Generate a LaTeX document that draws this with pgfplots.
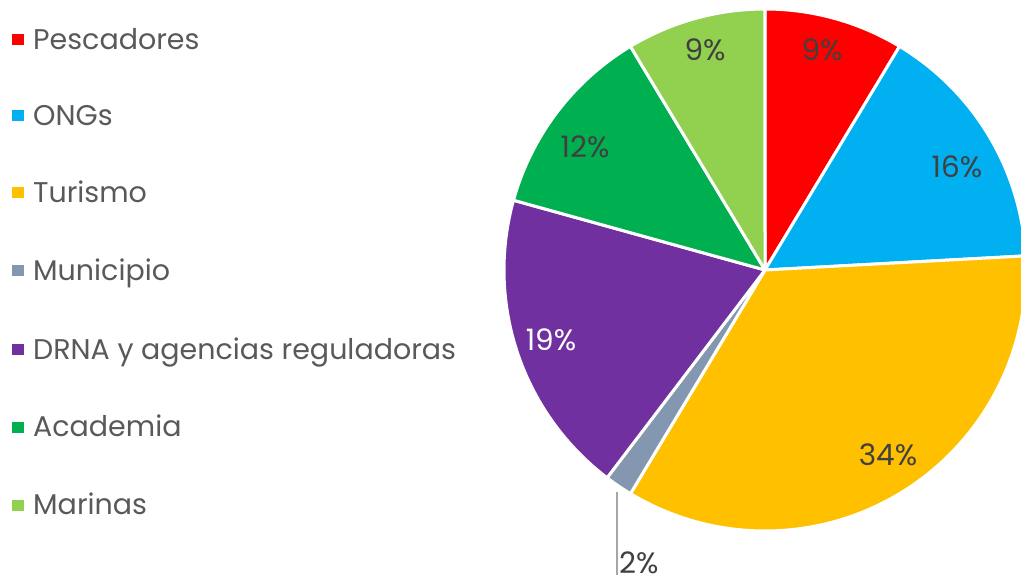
\documentclass[border=0pt]{standalone}
\usepackage{pgfplots}
\pgfplotsset{compat=1.18}
\usepackage{fontspec}
\setmainfont{Poppins}
\definecolor{cPes}{HTML}{FF0000}
\definecolor{cONG}{HTML}{00B0F0}
\definecolor{cTur}{HTML}{FFC000}
\definecolor{cMun}{HTML}{8497B0}
\definecolor{cDRN}{HTML}{7030A0}
\definecolor{cAca}{HTML}{00B050}
\definecolor{cMar}{HTML}{92D050}
\definecolor{legtxt}{HTML}{595959}
\definecolor{pcttxt}{HTML}{404040}
% counts per group (total 58); slices start at the top and run clockwise
% arguments: cumulative start count, cumulative end count, colour
\newcommand{\slice}[3]{%
  \addplot[fill=#3, draw=white, line width=3pt, line join=round,
    domain={#1*360/58}:{#2*360/58}, samples=90, variable=\t]
    ({765+261*sin(\t)}, {-270+261*cos(\t)}) -- (axis cs:765,-270) -- cycle;}
\newcommand{\legitem}[3]{%
  \fill[#2] (axis cs:12,{-#3+5.5}) rectangle (axis cs:23.5,{-#3-5.5});
  \node[anchor=base west, inner sep=0, text=legtxt, font=\fontsize{28.5}{33}\selectfont]
    at (axis cs:33,{-#3-9.5}) {#1};}
\begin{document}
\begin{tikzpicture}
\begin{axis}[
  scale only axis, width=1021pt, height=582pt,
  xmin=0, xmax=1021, ymin=-582, ymax=0,
  hide axis, clip=true]
\path (axis cs:0,0) rectangle (axis cs:1021,-582);
% Pescadores 5, ONGs 9, Turismo 20, Municipio 1, DRNA 11, Academia 7, Marinas 5
\slice{0}{5}{cPes}
\slice{5}{14}{cONG}
\slice{14}{34}{cTur}
\slice{34}{35}{cMun}
\slice{35}{46}{cDRN}
\slice{46}{53}{cAca}
\slice{53}{58}{cMar}
\draw[color=black!35, line width=1.5pt] (axis cs:617,-492) -- (axis cs:617,-575);
\begin{scope}[every node/.style={text=pcttxt, font=\fontsize{29.5}{34}\selectfont, inner sep=0}]
\node at (axis cs:822,-50) {9\%};
\node at (axis cs:957,-167) {16\%};
\node at (axis cs:888,-455) {34\%};
\node[anchor=west] at (axis cs:619,-563) {2\%};
\node[text=white] at (axis cs:551,-340) {19\%};
\node at (axis cs:585,-147) {12\%};
\node at (axis cs:705,-50) {9\%};
\end{scope}
\legitem{Pescadores}{cPes}{40}
\legitem{ONGs}{cONG}{116}
\legitem{Turismo}{cTur}{193}
\legitem{Municipio}{cMun}{271}
\legitem{DRNA y agencias reguladoras}{cDRN}{350}
\legitem{Academia}{cAca}{427}
\legitem{Marinas}{cMar}{505}
\end{axis}
\end{tikzpicture}
\end{document}
